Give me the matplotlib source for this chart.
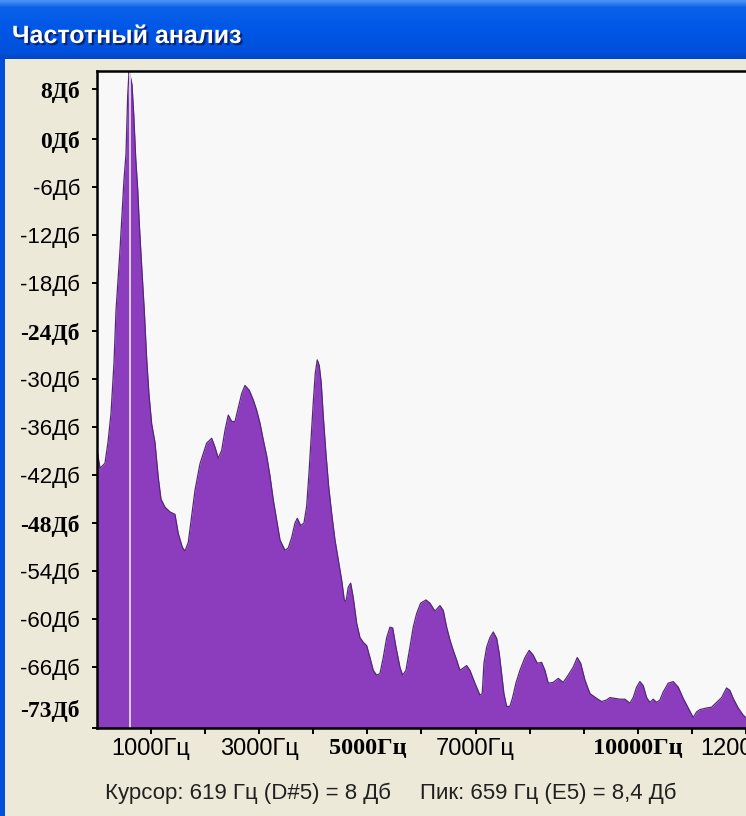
import matplotlib
matplotlib.use("Agg")
import matplotlib.pyplot as plt
import matplotlib.patheffects as pe
from matplotlib.colors import LinearSegmentedColormap
from matplotlib.patches import Rectangle
import numpy as np

# spectrum: frequency (Hz) -> level (dB)
freq_hz = [0, 55, 92, 148, 203, 259, 296, 314, 351, 388, 425, 462, 499, 536, 568,
           592, 610, 629, 647, 679, 716, 753, 782, 827, 875, 919, 961, 1011, 1072,
           1133, 1183, 1257, 1350, 1442, 1503, 1577, 1627, 1688, 1751, 1812, 1904,
           1965, 2028, 2121, 2182, 2243, 2306, 2367, 2428, 2491, 2552, 2613, 2676,
           2737, 2816, 2890, 2953, 3014, 3075, 3138, 3199, 3260, 3323, 3384, 3476,
           3537, 3600, 3661, 3704, 3766, 3827, 3877, 3920, 3957, 3999, 4036, 4073,
           4110, 4147, 4184, 4234, 4284, 4340, 4401, 4462, 4524, 4573, 4604, 4647,
           4691, 4739, 4802, 4863, 4924, 4987, 5048, 5109, 5172, 5233, 5294, 5357,
           5418, 5468, 5529, 5602, 5652, 5713, 5787, 5848, 5911, 5985, 6083, 6157,
           6250, 6342, 6403, 6466, 6527, 6588, 6651, 6712, 6773, 6836, 6897, 6989,
           7082, 7124, 7156, 7206, 7267, 7328, 7391, 7439, 7483, 7525, 7575, 7636,
           7686, 7747, 7821, 7914, 7993, 8067, 8141, 8222, 8284, 8345, 8437, 8530,
           8622, 8714, 8807, 8881, 8944, 9023, 9116, 9240, 9332, 9424, 9485, 9578,
           9670, 9763, 9855, 9916, 9979, 10040, 10101, 10164, 10225, 10286, 10349,
           10410, 10471, 10564, 10656, 10749, 10841, 10934, 11026, 11088, 11150,
           11273, 11366, 11458, 11551, 11643, 11704, 11765, 11858, 11950, 12000,
           12110, 12300, 13500]
level_db = [-38.9, -41.1, -40.9, -40.5, -37.9, -34.3, -30.1, -28.0, -21.5, -17.6,
            -13.9, -9.5, -5.1, -1.9, 5.5, 8.4, 8.0, 7.4, 6.8, 3.1, -2.4, -6.3, -10.6,
            -16.0, -21.5, -27.5, -31.9, -35.6, -37.9, -42.3, -45.0, -46.0, -46.6,
            -46.9, -49.3, -51.0, -51.5, -50.4, -47.1, -43.9, -40.6, -39.3, -38.0,
            -37.4, -38.5, -39.9, -38.9, -36.4, -34.5, -35.3, -35.3, -33.6, -31.8,
            -30.8, -31.4, -32.6, -33.9, -35.5, -37.6, -39.6, -42.1, -45.1, -47.6,
            -50.1, -51.4, -51.1, -49.8, -48.0, -47.4, -48.3, -48.0, -45.9, -41.8,
            -37.6, -33.0, -29.3, -27.6, -28.3, -30.5, -34.6, -39.3, -43.4, -46.8,
            -50.1, -52.6, -55.1, -57.6, -57.8, -56.0, -55.5, -57.3, -60.5, -62.3,
            -62.9, -63.3, -64.8, -66.4, -67.0, -66.8, -64.8, -62.3, -61.0, -61.1,
            -63.5, -66.0, -67.0, -66.4, -63.5, -61.0, -59.3, -58.0, -57.6, -58.0,
            -59.0, -58.3, -58.9, -61.0, -62.6, -63.9, -65.1, -66.4, -66.1, -65.8,
            -66.4, -68.0, -69.5, -69.3, -65.5, -63.5, -62.3, -61.6, -62.4, -64.3,
            -66.8, -69.3, -70.9, -70.9, -69.8, -68.0, -66.4, -64.8, -63.9, -64.5,
            -65.5, -65.4, -66.4, -68.0, -67.9, -67.4, -67.9, -67.0, -66.0, -64.8,
            -65.5, -67.6, -69.3, -69.9, -70.3, -70.1, -69.8, -69.9, -70.0, -70.0,
            -70.5, -69.8, -68.5, -67.8, -68.3, -69.8, -70.4, -70.0, -70.4, -70.1,
            -69.1, -68.0, -67.8, -68.5, -69.9, -71.1, -72.3, -71.6, -71.3, -71.1,
            -71.0, -70.4, -69.8, -68.6, -68.9, -69.9, -71.1, -72.0, -72.3, -72.6,
            -72.5, -72.0]

# axis labels as Audacity shows them
y_ticks = [6.25, 0, -6, -12, -18, -24, -30, -36, -42, -48, -54, -60, -66, -73.6]
y_labels = ["8Дб", "0Дб", "-6Дб", "-12Дб", "-18Дб", "-24Дб", "-30Дб", "-36Дб",
            "-42Дб", "-48Дб", "-54Дб", "-60Дб", "-66Дб", ""]
y_bottom_label = "-73Дб"
y_bold = ["8Дб", "0Дб", "-24Дб", "-48Дб", "-73Дб"]

x_ticks = list(range(1000, 14000, 1000))
x_labels = {1000: "1000Гц", 3000: "3000Гц", 5000: "5000Гц", 7000: "7000Гц",
            10000: "10000Гц", 12000: "12000Гц"}
x_bold = [5000, 10000]

cursor_hz = 619
cursor_text = "Курсор: 619 Гц (D#5) = 8 Дб"
peak_text = "Пик: 659 Гц (E5) = 8,4 Дб"
window_title = "Частотный анализ"

Y_MIN, Y_MAX = -73.6, 8.5
W, H = 746, 816

fig = plt.figure(figsize=(W / 100, H / 100), dpi=100, facecolor="#ECE9D8")

# ----- XP title bar -----
tb = fig.add_axes([0, 1 - 59 / H, 1, 59 / H])
cmap = LinearSegmentedColormap.from_list(
    "xp", [(0, "#4A93F5"), (0.12, "#0A62EA"), (0.5, "#0056E6"),
           (0.9, "#0050DA"), (1, "#0046C4")])
tb.imshow(np.linspace(0, 1, 60).reshape(-1, 1), aspect="auto", cmap=cmap,
          extent=[0, 1, 0, 1])
tb.set_axis_off()
fig.text(12 / W, 1 - 36 / H, window_title, color="white", fontsize=18,
         fontweight="bold", family="Liberation Sans", va="center",
         path_effects=[pe.withSimplePatchShadow(offset=(1.5, -1.5),
                                                shadow_rgbFace="#0A1E6E",
                                                alpha=0.9)])
# left window frame
fig.add_artist(Rectangle((0, 0), 5 / W, 1 - 59 / H, transform=fig.transFigure,
                         color="#0050DC", lw=0))

# ----- spectrum -----
ax = fig.add_axes([97 / W, 88 / H, 730 / W, 657 / H])
ax.set_facecolor("#F8F8F8")
ax.fill_between(freq_hz, level_db, Y_MIN, color="#8B3DBE", lw=0)
ax.plot(freq_hz, level_db, color="#55287A", lw=0.9)
ax.axvline(cursor_hz, color="#E4D8F0", lw=1.3)
ax.set_xlim(0, 13500)
ax.set_ylim(Y_MIN, Y_MAX)

for s in ["left", "top", "bottom"]:
    ax.spines[s].set_linewidth(1.8)
ax.spines["right"].set_visible(False)

ax.set_yticks(y_ticks, y_labels)
ax.set_xticks(x_ticks, [x_labels.get(t, "") for t in x_ticks])
ax.tick_params(axis="y", direction="out", length=3.6, width=1.4, pad=8.6)
ax.tick_params(axis="x", direction="out", length=4.5, width=1.4, pad=3)

for lab in ax.get_yticklabels():
    if lab.get_text() in y_bold:
        lab.set_fontfamily("Liberation Serif")
        lab.set_fontweight("bold")
        lab.set_fontsize(17)
    else:
        lab.set_fontfamily("Liberation Sans")
        lab.set_fontsize(16)
for t, lab in zip(x_ticks, ax.get_xticklabels()):
    if t in x_bold:
        lab.set_fontfamily("Liberation Serif")
        lab.set_fontweight("bold")
        lab.set_fontsize(17.5)
    else:
        lab.set_fontfamily("Liberation Sans")
        lab.set_fontsize(17)

# bottom end label sits above its tick
ax.annotate(y_bottom_label, xy=(0, Y_MIN), xycoords=("axes fraction", "data"),
            xytext=(-12.2, 12.2), textcoords="offset points", ha="right",
            va="center", family="Liberation Serif", fontweight="bold",
            fontsize=17)

# status line
fig.text(105 / W, 1 - 793 / H, cursor_text, fontsize=16,
         family="Liberation Sans", va="center", color="#202020")
fig.text(420 / W, 1 - 793 / H, peak_text, fontsize=16,
         family="Liberation Sans", va="center", color="#202020")

fig.savefig("out.png", dpi=100, facecolor=fig.get_facecolor())
